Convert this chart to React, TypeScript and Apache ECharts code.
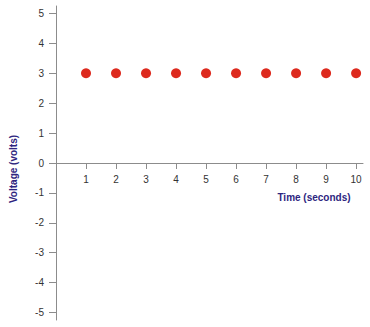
import React, { useEffect, useRef } from "react";
import * as echarts from "echarts";

const timeValues = [1, 2, 3, 4, 5, 6, 7, 8, 9, 10];
const voltageValues = [3, 3, 3, 3, 3, 3, 3, 3, 3, 3];
const yTicks = [-5, -4, -3, -2, -1, 0, 1, 2, 3, 4, 5];

export default function App() {
  const ref = useRef<HTMLDivElement>(null);
  useEffect(() => {
    if (!ref.current) return;
    const chart = echarts.init(ref.current, null, { renderer: "svg" });
    const axisColor = "#8c8c8c";
    const labelStyle = { color: "#333", fontSize: 10, fontFamily: "Liberation Sans, Arial, sans-serif" };
    chart.setOption({
      animation: false,
      backgroundColor: "#fff",
      grid: { left: 56, right: 7, top: 6, bottom: 7, containLabel: false, outerBoundsMode: "none" },
      xAxis: {
        type: "value",
        min: 0,
        max: 10.23,
        interval: 1,
        offset: -157,
        splitLine: { show: false },
        axisLine: { show: true, onZero: false, lineStyle: { color: axisColor, width: 1 } },
        axisTick: { show: true, length: 6, lineStyle: { color: axisColor } },
        axisLabel: {
          ...labelStyle,
          margin: 11,
          showMinLabel: false,
          showMaxLabel: false,
          formatter: (v: number) => (v === 0 ? "" : String(v)),
        },
      },
      yAxis: {
        type: "value",
        min: -5.25,
        max: 5.25,
        splitLine: { show: false },
        axisLine: { show: true, lineStyle: { color: axisColor, width: 1 } },
        axisTick: { show: true, length: 7, customValues: yTicks, lineStyle: { color: axisColor } },
        axisLabel: { ...labelStyle, margin: 12, customValues: yTicks },
      },
      graphic: [
        {
          type: "text",
          x: 13,
          y: 169,
          rotation: Math.PI / 2,
          style: {
            text: "Voltage (volts)",
            fill: "#2e2580",
            font: "bold 10px Liberation Sans, Arial, sans-serif",
            align: "center",
            verticalAlign: "middle",
          },
        },
        {
          type: "text",
          x: 314,
          y: 197,
          style: {
            text: "Time (seconds)",
            fill: "#2e2580",
            font: "bold 10px Liberation Sans, Arial, sans-serif",
            align: "center",
            verticalAlign: "middle",
          },
        },
      ],
      series: [
        {
          type: "scatter",
          symbol: "circle",
          symbolSize: 10,
          itemStyle: { color: "#dd2a1e", opacity: 1 },
          data: timeValues.map((t, i) => [t, voltageValues[i]]),
        },
      ],
    });
    return () => chart.dispose();
  }, []);
  return <div ref={ref} style={{ width: 370, height: 327, position: "absolute", left: 0, top: 0 }} />;
}
